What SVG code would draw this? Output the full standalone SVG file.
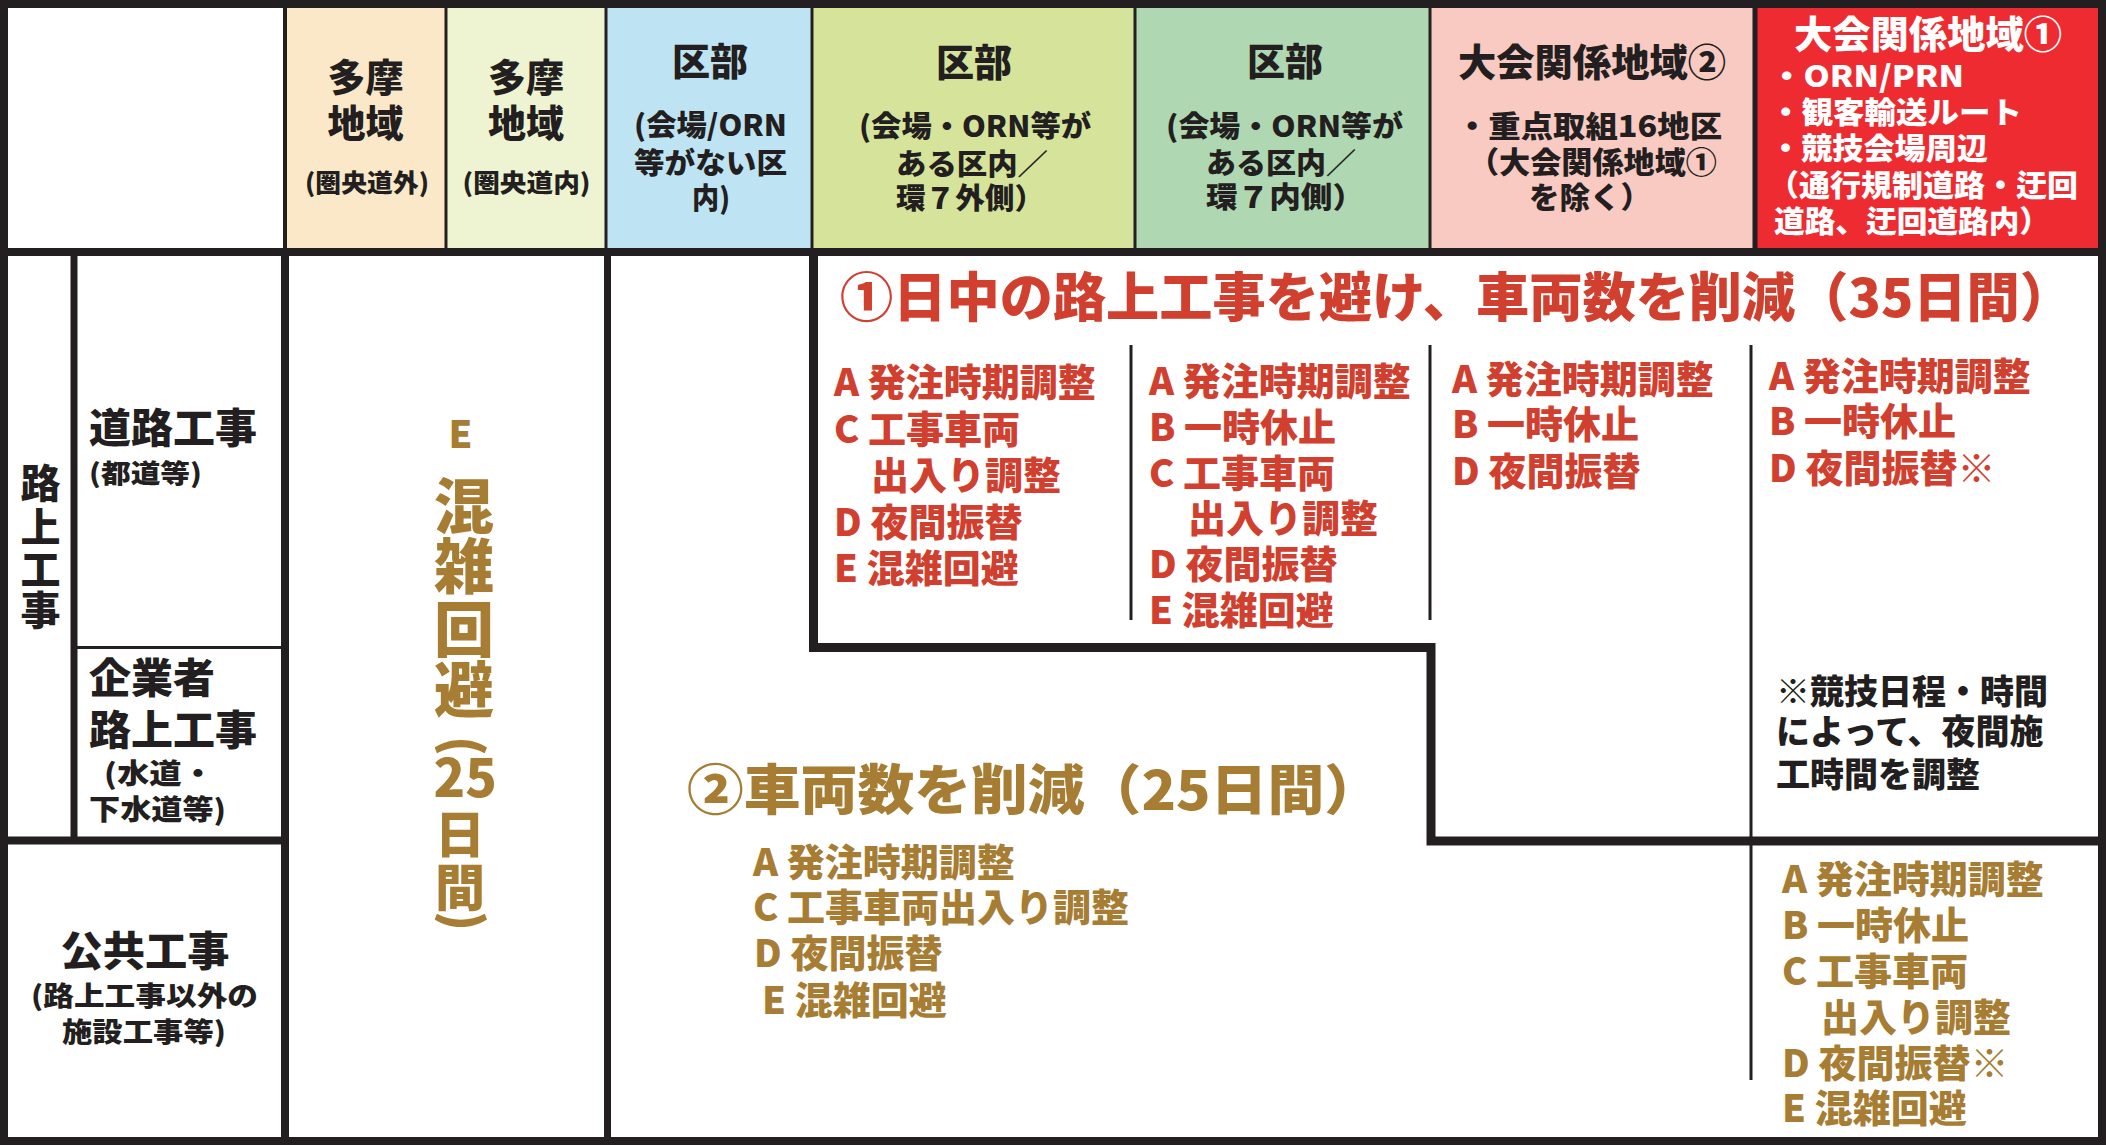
<svg xmlns="http://www.w3.org/2000/svg" width="2106" height="1146" viewBox="0 0 2106 1146">
<style>
text { font-family: "Noto Sans CJK JP", "Noto Sans CJK SC", sans-serif; font-weight: 900; }
.dk { fill: #231F20; }
.rd { fill: #D1402F; }
.gd { fill: #A67D33; }
.wt { fill: #FFFFFF; }
.mid { text-anchor: middle; }
.f38 { font-size: 38px; }
.f30 { font-size: 30px; }
.f29 { font-size: 29px; }
.f26 { font-size: 26px; }
.f41 { font-size: 41px; }
.f34 { font-size: 34px; }
.ln { stroke: #231F20; fill: none; }
</style>
<rect x="0" y="0" width="2106" height="1146" fill="#FFFFFF"/>

<!-- header cells -->
<g id="hdr-blank"><rect x="4" y="4" width="281" height="248" fill="#FFFFFF"/></g>
<g id="hdr-tama-out">
<rect x="285" y="4" width="161" height="248" fill="#FAE8C9"/>
<text class="dk f38 mid"><tspan x="365.5" y="91">多摩</tspan><tspan x="365.5" y="137">地域</tspan></text>
<text class="dk mid" x="367" y="192" font-size="25" textLength="124" lengthAdjust="spacingAndGlyphs">(圏央道外)</text>
</g>
<g id="hdr-tama-in">
<rect x="446" y="4" width="160" height="248" fill="#EEF3D1"/>
<text class="dk f38 mid"><tspan x="526" y="91">多摩</tspan><tspan x="526" y="137">地域</tspan></text>
<text class="dk mid" x="526.5" y="192" font-size="25" textLength="128" lengthAdjust="spacingAndGlyphs">(圏央道内)</text>
</g>
<g id="hdr-ku-none">
<rect x="606" y="4" width="206" height="248" fill="#BEE4F4"/>
<text class="dk f38 mid" x="710" y="75">区部</text>
<text class="dk f29"><tspan x="634" y="136" textLength="153" lengthAdjust="spacingAndGlyphs">(会場/ORN</tspan><tspan x="634" y="174" textLength="153" lengthAdjust="spacingAndGlyphs">等がない区</tspan><tspan x="692" y="209" textLength="38" lengthAdjust="spacingAndGlyphs">内)</tspan></text>
</g>
<g id="hdr-ku-out7">
<rect x="812" y="4" width="323" height="248" fill="#D6E39B"/>
<text class="dk f38 mid" x="974" y="76">区部</text>
<text class="dk f29"><tspan x="859" y="137" textLength="232" lengthAdjust="spacingAndGlyphs">(会場・ORN等が</tspan><tspan x="896" y="175" textLength="152" lengthAdjust="spacingAndGlyphs">ある区内／</tspan><tspan x="896" y="209" textLength="148" lengthAdjust="spacingAndGlyphs">環７外側）</tspan></text>
</g>
<g id="hdr-ku-in7">
<rect x="1135" y="4" width="295" height="248" fill="#AFD8B2"/>
<text class="dk f38 mid" x="1285" y="75">区部</text>
<text class="dk f29"><tspan x="1166" y="137" textLength="237" lengthAdjust="spacingAndGlyphs">(会場・ORN等が</tspan><tspan x="1206" y="174" textLength="150" lengthAdjust="spacingAndGlyphs">ある区内／</tspan><tspan x="1206" y="208" textLength="158" lengthAdjust="spacingAndGlyphs">環７内側）</tspan></text>
</g>
<g id="hdr-taikai2">
<rect x="1430" y="4" width="325" height="248" fill="#F9CAC1"/>
<text class="dk f38" x="1458" y="76" textLength="268" lengthAdjust="spacingAndGlyphs">大会関係地域②</text>
<text class="dk f30"><tspan x="1456" y="137" textLength="266" lengthAdjust="spacingAndGlyphs">・重点取組16地区</tspan><tspan x="1468" y="173" textLength="249" lengthAdjust="spacingAndGlyphs">（大会関係地域①</tspan><tspan x="1529" y="208" textLength="122" lengthAdjust="spacingAndGlyphs">を除く）</tspan></text>
</g>
<g id="hdr-taikai1">
<rect x="1755" y="4" width="347" height="248" fill="#EE2B30"/>
<text class="wt f38" x="1794" y="48" textLength="268" lengthAdjust="spacingAndGlyphs">大会関係地域①</text>
<text class="wt f30"><tspan x="1770" y="87" textLength="194" lengthAdjust="spacingAndGlyphs">・ORN/PRN</tspan><tspan x="1770" y="123" textLength="252" lengthAdjust="spacingAndGlyphs">・観客輸送ルート</tspan><tspan x="1770" y="159" textLength="218" lengthAdjust="spacingAndGlyphs">・競技会場周辺</tspan><tspan x="1768" y="196" textLength="310" lengthAdjust="spacingAndGlyphs">（通行規制道路・迂回</tspan><tspan x="1774" y="232" textLength="276" lengthAdjust="spacingAndGlyphs">道路、迂回道路内）</tspan></text>
</g>

<!-- row labels -->
<g id="row-rojo">
<text class="dk mid" font-size="40"><tspan x="40.5" y="498">路</tspan><tspan x="40.5" y="542">上</tspan><tspan x="40.5" y="584">工</tspan><tspan x="40.5" y="625">事</tspan></text>
</g>
<g id="row-doro">
<text class="dk"><tspan class="f41" x="89" y="443" textLength="168" lengthAdjust="spacingAndGlyphs">道路工事</tspan><tspan class="f26" x="89" y="483" textLength="113" lengthAdjust="spacingAndGlyphs">(都道等)</tspan></text>
</g>
<g id="row-kigyo">
<text class="dk"><tspan class="f41" x="89" y="693" textLength="126" lengthAdjust="spacingAndGlyphs">企業者</tspan><tspan class="f41" x="89" y="745" textLength="168" lengthAdjust="spacingAndGlyphs">路上工事</tspan><tspan x="104" y="784" font-size="28" textLength="110" lengthAdjust="spacingAndGlyphs">(水道・</tspan><tspan x="89" y="820" font-size="28" textLength="137" lengthAdjust="spacingAndGlyphs">下水道等)</tspan></text>
</g>
<g id="row-kokyo">
<text class="dk f41 mid" x="145" y="966" textLength="169" lengthAdjust="spacingAndGlyphs">公共工事</text>
<text class="dk" font-size="27"><tspan x="31" y="1006" textLength="227" lengthAdjust="spacingAndGlyphs">(路上工事以外の</tspan><tspan x="62" y="1042" textLength="164" lengthAdjust="spacingAndGlyphs">施設工事等)</tspan></text>
</g>

<!-- E column (vertical) -->
<g id="col-e">
<text class="gd"><tspan x="448.5" y="448" font-size="38">E</tspan><tspan x="434" y="529" font-size="60">混</tspan><tspan x="434" y="589" font-size="60">雑</tspan><tspan x="434" y="652" font-size="60">回</tspan><tspan x="434" y="712" font-size="60">避</tspan><tspan x="445" y="736" font-size="50" rotate="90">(</tspan><tspan x="433.5" y="797" font-size="52">25</tspan><tspan x="435" y="853" font-size="50">日</tspan><tspan x="435" y="906" font-size="50">間</tspan><tspan x="445" y="911" font-size="50" rotate="90">)</tspan></text>
</g>

<!-- measure 1 -->
<g id="measure-1">
<text class="rd" x="840" y="317" font-size="53" textLength="1233" lengthAdjust="spacingAndGlyphs">①日中の路上工事を避け、車両数を削減（35日間）</text>
</g>
<g id="m1-ku-out7">
<text class="rd f38"><tspan x="834" y="396">A 発注時期調整</tspan><tspan x="834" y="442.5">C 工事車両</tspan><tspan x="871" y="489">出入り調整</tspan><tspan x="834" y="535.5">D 夜間振替</tspan><tspan x="834" y="582">E 混雑回避</tspan></text>
</g>
<g id="m1-ku-in7">
<text class="rd f38"><tspan x="1149" y="394.5">A 発注時期調整</tspan><tspan x="1149" y="440.5">B 一時休止</tspan><tspan x="1149" y="487">C 工事車両</tspan><tspan x="1188" y="532">出入り調整</tspan><tspan x="1149" y="578">D 夜間振替</tspan><tspan x="1149" y="623.5">E 混雑回避</tspan></text>
</g>
<g id="m1-taikai2">
<text class="rd f38"><tspan x="1452" y="392.5">A 発注時期調整</tspan><tspan x="1452" y="437.5">B 一時休止</tspan><tspan x="1452" y="484.5">D 夜間振替</tspan></text>
</g>
<g id="m1-taikai1">
<text class="rd f38"><tspan x="1769" y="389.5">A 発注時期調整</tspan><tspan x="1769" y="434.5">B 一時休止</tspan><tspan x="1769" y="482">D 夜間振替※</tspan></text>
</g>
<g id="note">
<text class="dk f34"><tspan x="1776" y="704">※競技日程・時間</tspan><tspan x="1776" y="744">によって、夜間施</tspan><tspan x="1776" y="786.5">工時間を調整</tspan></text>
</g>

<!-- measure 2 -->
<g id="measure-2">
<text class="gd" x="687" y="810" font-size="54" textLength="694" lengthAdjust="spacingAndGlyphs">②車両数を削減（25日間）</text>
<text class="gd f38"><tspan x="753" y="875.5">A 発注時期調整</tspan><tspan x="753" y="921">C 工事車両出入り調整</tspan><tspan x="754" y="967">D 夜間振替</tspan><tspan x="762" y="1013.5">E 混雑回避</tspan></text>
</g>
<g id="m2-taikai1">
<text class="gd f38"><tspan x="1782" y="892.5">A 発注時期調整</tspan><tspan x="1782" y="938.5">B 一時休止</tspan><tspan x="1782" y="984.5">C 工事車両</tspan><tspan x="1821" y="1030.5">出入り調整</tspan><tspan x="1782" y="1077">D 夜間振替※</tspan><tspan x="1782" y="1122">E 混雑回避</tspan></text>
</g>

<!-- grid lines -->
<g id="connectors">
<line class="ln" x1="285" y1="4" x2="285" y2="252" stroke-width="4"/>
<line class="ln" x1="446" y1="4" x2="446" y2="252" stroke-width="3"/>
<line class="ln" x1="606" y1="4" x2="606" y2="252" stroke-width="3"/>
<line class="ln" x1="812" y1="4" x2="812" y2="252" stroke-width="3"/>
<line class="ln" x1="1135" y1="4" x2="1135" y2="252" stroke-width="3"/>
<line class="ln" x1="1430" y1="4" x2="1430" y2="252" stroke-width="3"/>
<line class="ln" x1="1755" y1="4" x2="1755" y2="252" stroke-width="5"/>
<rect class="ln" x="4" y="4" width="2098" height="1137" stroke-width="8"/>
<line class="ln" x1="0" y1="252" x2="2106" y2="252" stroke-width="8"/>
<line class="ln" x1="285" y1="252" x2="285" y2="1141" stroke-width="8"/>
<line class="ln" x1="607.5" y1="252" x2="607.5" y2="1141" stroke-width="7"/>
<line class="ln" x1="74" y1="252" x2="74" y2="841" stroke-width="7"/>
<line class="ln" x1="4" y1="840.5" x2="285" y2="840.5" stroke-width="8"/>
<line class="ln" x1="74" y1="647.5" x2="285" y2="647.5" stroke-width="3"/>
<polyline class="ln" points="813.5,252 813.5,647.5 1431,647.5 1431,841 2102,841" stroke-width="9"/>
<line class="ln" x1="1131" y1="345" x2="1131" y2="620" stroke-width="3"/>
<line class="ln" x1="1430" y1="345" x2="1430" y2="620" stroke-width="3"/>
<line class="ln" x1="1751" y1="345" x2="1751" y2="1080" stroke-width="3"/>
</g>
</svg>
